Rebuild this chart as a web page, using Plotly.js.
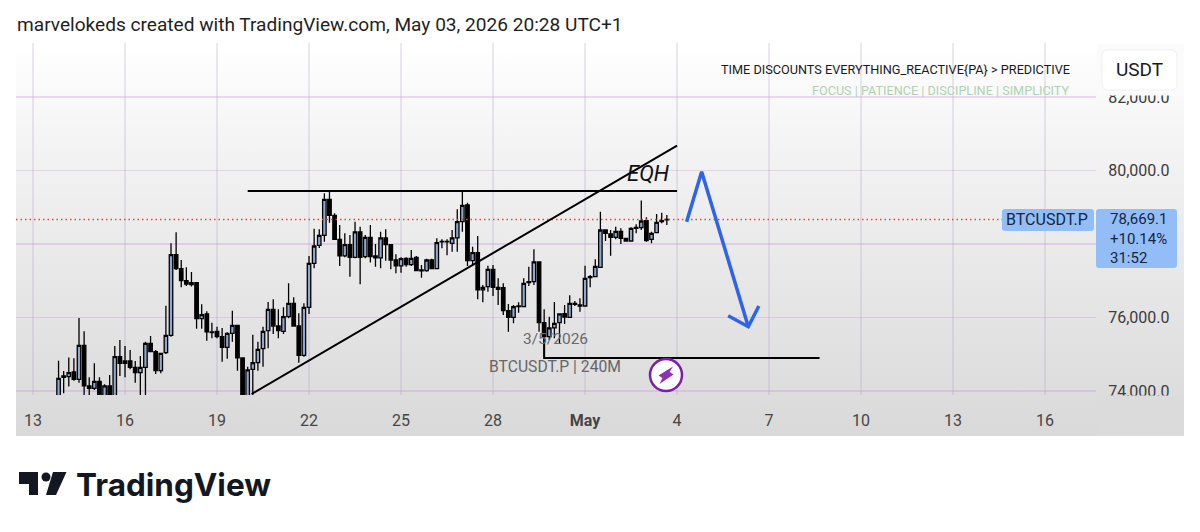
<!DOCTYPE html>
<html><head><meta charset="utf-8">
<script src="https://cdn.plot.ly/plotly-3.0.1.min.js"></script>
<style>
html,body{margin:0;padding:0;background:#fff;width:1200px;height:532px;overflow:hidden}
#panel{position:absolute;left:16px;top:43px;width:1168px;height:393px;background:linear-gradient(#ffffff 0%,#f2f2f2 30%,#d9d9d9 100%)}
#chart{position:absolute;left:0;top:0;width:1200px;height:532px}
</style></head><body>
<div id="panel"></div><div id="chart"></div>
<script>
// 4h candles, BTCUSDT.P
const firstCandle = Date.UTC(2026,3,13,20);
const opens = [73820,74373,74391,74518,74318,75243,74137,74073,74263,73820,74137,73820,74935,74817,74817,74645,74500,74645,75298,75071,
74554,75044,75515,77710,77329,77003,76948,76948,75969,76096,75606,75624,75479,75189,75570,75787,74899,73820,74590,74771,
75153,75642,76223,75769,75624,76023,76386,75769,74971,76277,77474,77964,78236,79216,78780,78127,77674,77982,77638,78327,
77656,78182,77674,77620,78164,77982,77565,77402,77610,77438,77638,77293,77275,77565,77329,78055,78073,78019,78164,78608,
79062,77547,77765,76749,76840,77311,76821,76812,76186,76005,76295,76295,76948,76975,77511,75860,75479,75715,75860,76105,
76005,76386,76313,76313,77084,77112,77366,78381,78273,78182,78345,78155,78082,78427,78445,78635,78127,78309,78608,78654];
const highs = [74826,74545,74908,74889,75987,75624,74373,74753,74373,74182,74436,75225,75388,75225,75116,74817,74953,75343,75497,75116,
75044,76322,78019,78318,77565,77366,77239,76966,76359,76168,75860,75751,75715,75597,76186,75787,74899,74663,75533,75343,
75751,76422,76495,76223,76277,76930,76549,76114,76386,77674,78418,78400,79379,79424,78835,78517,78291,78245,78608,78472,
78245,78517,78000,78336,78400,78000,77719,77638,77638,77837,77674,77429,77601,77601,78155,78127,78127,78381,78944,79424,
79125,77928,78218,76885,77411,77429,77066,76930,76368,76341,76413,77066,77384,77855,77520,76223,76023,76422,76114,76341,
76604,76450,76522,77411,77157,77583,78880,78400,78381,78472,78427,78155,78454,78536,79180,78726,78336,78817,78853,78790];
const lows = [73750,73937,74119,74282,74227,73880,73880,74028,73750,73750,73750,73750,74409,74373,74590,74227,73750,73750,75071,74463,
74481,75007,75479,77293,76821,76858,76840,75697,75697,75370,75434,75434,74799,74880,75343,74554,73750,73750,73880,74554,
74663,75162,75552,75434,75552,75978,75751,74771,74935,76096,77338,77892,78064,78581,78109,77402,77638,77112,77610,76903,
77610,77493,77384,77338,77547,77311,77202,77220,77384,77402,77257,77084,77248,77311,77311,77883,77692,77792,77792,78336,
77402,77429,76495,76413,76703,76586,76341,76069,75615,75842,76132,76277,76858,76885,75615,74935,75388,75434,75279,75824,
76005,76313,76159,76295,76821,77093,77366,78082,77683,78127,78000,78064,78064,78291,78381,78064,78019,78291,78563,78517];
const closes = [74345,74409,74500,74318,75243,74137,74073,74263,73800,74137,73800,74935,74753,74753,74645,74500,74645,75298,75071,74554,
75026,75515,77710,77329,77003,76912,76894,75969,76078,75606,75588,75479,75189,75570,75787,74899,73800,74572,74771,75134,
75624,76223,75769,75642,76023,76386,75769,74971,76277,77474,77946,78236,79216,78780,78127,77674,77982,77638,78327,77638,
78182,77656,77620,78164,77982,77565,77402,77601,77438,77610,77275,77266,77565,77329,78037,78073,78055,78164,78608,79053,
77547,77765,76749,76821,77311,76821,76767,76186,76005,76295,76313,76930,76975,77511,75860,75479,75715,75842,76096,76014,
76386,76359,76341,77066,77112,77393,78381,78291,78182,78345,78155,78082,78427,78454,78626,78091,78291,78590,78635,78669.1];
const candleTimes = opens.map((_,i)=>new Date(firstCandle+i*4*3600e3).toISOString().slice(0,16).replace('T',' '));

const xTickDates = ['2026-04-13','2026-04-16','2026-04-19','2026-04-22','2026-04-25','2026-04-28','2026-05-01','2026-05-04','2026-05-07','2026-05-10','2026-05-13','2026-05-16'];
const xTickLabels = ['13','16','19','22','25','28','<b>May</b>','4','7','10','13','16'];
const yTicks = [74000,76000,78000,80000,82000];
const yTickLabels = ['74,000.0','76,000.0','','80,000.0','82,000.0']; // 78,000.0 sits under the price tag
const lastPrice = 78669.1;

// user drawings (time, price)
const eqhTimes = ['2026-04-20 00:00','2026-05-04 00:00'], eqhPrices = [79443,79443];
const trendTimes = ['2026-04-20 03:00','2026-05-04 00:00'], trendPrices = [73918,80675];
const floorTimes = ['2026-04-29 16:00','2026-04-29 16:00','2026-05-08 15:30'], floorPrices = [75479,74898,74898];
const arrowTimes = ['2026-05-04 07:30','2026-05-04 19:15','2026-05-06 07:45'], arrowPrices = [78607,79967,75750];
const headTimes = ['2026-05-05 16:00','2026-05-06 07:45','2026-05-06 16:00'], headPrices = [76049,75750,76313];
const rangeStart='2026-04-12 10:42', rangeEnd='2026-05-17 15:50';

const W=1200,H=532;
const px=x=>x/W, py=y=>1-y/H;
const FONT='Roboto, sans-serif';
const note=(x,y,text,size,color,anchor,extra)=>Object.assign({xref:'paper',yref:'paper',x:px(x),y:py(y),text,showarrow:false,xanchor:anchor||'left',yanchor:'middle',font:{family:FONT,size,color},borderpad:0},extra||{});
const pathPx=pts=>pts.map((p,i)=>(i?'L':'M')+px(p[0]).toFixed(5)+','+py(p[1]).toFixed(5)).join(' ')+' Z';
const rect=(x0,y0,x1,y1,fill,layer)=>({type:'rect',xref:'paper',yref:'paper',x0:px(x0),x1:px(x1),y0:py(y0),y1:py(y1),fillcolor:fill,line:{width:0},layer:layer||'above'});
const roundRect=(x0,y0,x1,y1,r,fill,stroke)=>{const c=(x,y)=>px(x).toFixed(5)+','+py(y).toFixed(5);
 return {type:'path',xref:'paper',yref:'paper',layer:'above',fillcolor:fill,line:{width:stroke?1:0,color:stroke||fill},
 path:`M${c(x0+r,y0)} L${c(x1-r,y0)} Q${c(x1,y0)} ${c(x1,y0+r)} L${c(x1,y1-r)} Q${c(x1,y1)} ${c(x1-r,y1)} L${c(x0+r,y1)} Q${c(x0,y1)} ${c(x0,y1-r)} L${c(x0,y0+r)} Q${c(x0,y0)} ${c(x0+r,y0)} Z`};};

const lineTrace=(x,y,color,width,dash)=>({type:'scatter',mode:'lines',x,y,line:{color,width,dash:dash||'solid'},hoverinfo:'skip',showlegend:false,cliponaxis:false});

const traces=[
 lineTrace([rangeStart,rangeEnd],[lastPrice,lastPrice],'#e0474f',1.5,'1.5px,3px'),
 {type:'candlestick',x:candleTimes,open:opens,high:highs,low:lows,close:closes,
  increasing:{line:{color:'#000',width:1.3},fillcolor:'#8fa8cc'},
  decreasing:{line:{color:'#000',width:1.3},fillcolor:'#000'},
  whiskerwidth:0,hoverinfo:'skip',showlegend:false},
 lineTrace(eqhTimes,eqhPrices,'#000',2),
 lineTrace(trendTimes,trendPrices,'#000',2),
 lineTrace(floorTimes,floorPrices,'#000',2),
 lineTrace(arrowTimes,arrowPrices,'#2f63e8',3.5),
 lineTrace(headTimes,headPrices,'#2f63e8',3.5)
];

const layout={
 width:W,height:H,margin:{l:0,r:0,t:0,b:0},paper_bgcolor:'rgba(0,0,0,0)',plot_bgcolor:'rgba(0,0,0,0)',showlegend:false,
 font:{family:FONT},boxgap:0.2,boxgroupgap:0.15,
 xaxis:{type:'date',domain:[px(16),px(1096)],range:[rangeStart,rangeEnd],rangeslider:{visible:false},
  tickmode:'array',tickvals:xTickDates,ticktext:xTickLabels,ticks:'outside',ticklen:11,tickcolor:'rgba(0,0,0,0)',
  tickfont:{family:FONT,size:16,color:'#454545'},showgrid:true,gridcolor:'rgba(175,155,195,0.24)',gridwidth:1.5,zeroline:false,showline:false,fixedrange:true},
 yaxis:{domain:[py(395),py(43)],range:[73891,83469],side:'right',tickmode:'array',tickvals:yTicks,ticktext:yTickLabels,
  ticks:'outside',ticklen:8,tickcolor:'rgba(0,0,0,0)',tickfont:{family:FONT,size:16,color:'#3c3c3c'},
  showgrid:true,gridcolor:'rgba(200,150,220,0.34)',gridwidth:1.3,zeroline:false,showline:false,fixedrange:true},
 shapes:[
  rect(1097,44,1184,95.5,'#fbfbfb'),
  rect(1097,395.5,1184,436,'#dbdbdb'),
  roundRect(1102,50,1177,90,6,'#ffffff','#f0f0f0'),
  roundRect(1002,209,1094,231,3,'#92bdf6'),
  roundRect(1096,209,1177,268,3,'#92bdf6'),
  {type:'circle',xref:'paper',yref:'paper',layer:'above',x0:px(650),x1:px(682),y0:py(391),y1:py(359),fillcolor:'#fff',line:{color:'#7d1fa6',width:2.5}},
  {type:'path',xref:'paper',yref:'paper',layer:'above',fillcolor:'#8e30b5',line:{width:0},path:pathPx([[673,366.5],[658.5,375.5],[662.5,378],[659.5,384],[673.5,374.5],[669.5,372]])},
  // TradingView mark
  {type:'path',xref:'paper',yref:'paper',layer:'above',fillcolor:'#131722',line:{width:0},path:pathPx([[19,472],[38,472],[38,495],[29,495],[29,484],[19,484]])},
  {type:'circle',xref:'paper',yref:'paper',layer:'above',x0:px(41.5),x1:px(50.5),y0:py(481.5),y1:py(472.5),fillcolor:'#131722',line:{width:0}},
  {type:'path',xref:'paper',yref:'paper',layer:'above',fillcolor:'#131722',line:{width:0},path:pathPx([[53,472],[66.5,472],[56,495],[46,495]])}
 ],
 annotations:[
  note(16,25,'marvelokeds created with TradingView.com, May 03, 2026 20:28 UTC+1',19.1,'#1f1f1f'),
  note(1071,69,'TIME DISCOUNTS EVERYTHING_REACTIVE{PA} > PREDICTIVE',12.7,'#1a1a1a','right'),
  note(1071,91,'FOCUS | PATIENCE | DISCIPLINE | SIMPLICITY',12.65,'#abd5ad','right'),
  note(1139.5,70,'USDT',19,'#1a1a1a','center'),
  note(648,173,'<i>EQH</i>',22,'#111','center'),
  note(555,339,'3/5/2026',15.5,'#6a6a6a','center'),
  note(555,366,'BTCUSDT.P | 240M',15.7,'#666','center'),
  note(1047,220,'BTCUSDT.P',16,'#17263a','center'),
  note(1109,238.5,'78,669.1<br>+10.14%<br>31:52',15,'#17263a','left',{align:'left'}),
  {xref:'paper',yref:'paper',x:px(75),y:py(484),text:'TradingView',showarrow:false,xanchor:'left',yanchor:'middle',borderpad:0,font:{family:'Inter, sans-serif',size:31.5,color:'#131722',weight:700}}
 ]
};
Plotly.newPlot('chart',traces,layout,{staticPlot:true,displayModeBar:false});
</script></body></html>
